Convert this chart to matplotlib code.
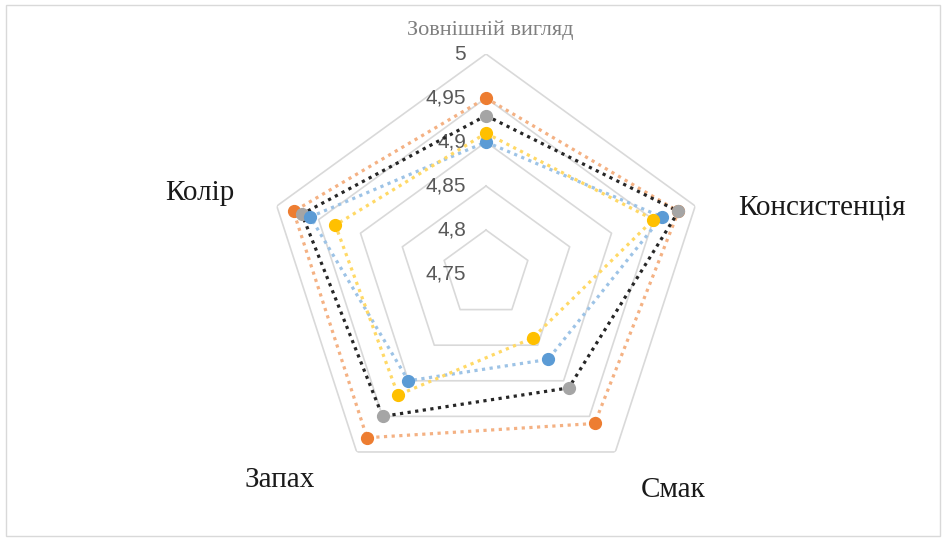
import matplotlib
matplotlib.use('Agg')
import matplotlib.pyplot as plt
import matplotlib.transforms as mtransforms
from matplotlib.patches import Rectangle
import numpy as np

categories = ['Зовнішній вигляд', 'Консистенція', 'Смак', 'Запах', 'Колір']
s_orange = [4.95, 4.98, 4.96, 4.98, 4.98]
s_gray = [4.93, 4.98, 4.91, 4.95, 4.97]
s_blue = [4.90, 4.96, 4.87, 4.90, 4.96]
s_yellow = [4.91, 4.95, 4.84, 4.92, 4.93]
ring_ticks = [4.75, 4.8, 4.85, 4.9, 4.95, 5.0]
ring_labels = ['4,75', '4,8', '4,85', '4,9', '4,95', '5']

# line colour, marker colour
styles = [('#F4B183', '#ED7D31'), ('#262626', '#A5A5A5'),
          ('#9DC3E6', '#5B9BD5'), ('#FFD966', '#FFC000')]

fig = plt.figure(figsize=(9.47, 5.4), dpi=100)
fig.patches.append(Rectangle((0.006, 0.008), 0.987, 0.982, transform=fig.transFigure,
                             fill=False, edgecolor='#D9D9D9', linewidth=1))
ax = fig.add_axes([0.2809, 0.0852, 0.4646, 0.8148], projection='polar')
ax.set_theta_zero_location('N')
ax.set_theta_direction(-1)
ax.set_ylim(ring_ticks[0], ring_ticks[-1])
ax.set_xticks([])
ax.set_yticks([])
ax.spines['polar'].set_visible(False)
ax.patch.set_visible(False)

angles = np.linspace(0, 2 * np.pi, len(categories), endpoint=False)
closed = np.append(angles, angles[0])

for r in ring_ticks[1:]:
    ax.plot(closed, [r] * len(closed), color='#D9D9D9', linewidth=1.2, zorder=1)

off = mtransforms.offset_copy(ax.transData, fig=fig, x=-20, y=0, units='dots')
for r, lab in zip(ring_ticks, ring_labels):
    ax.text(0, r, lab, transform=off, ha='right', va='center', fontsize=15,
            color='#595959', family='Liberation Sans')

for vals, (lc, mc) in zip([s_orange, s_gray, s_blue, s_yellow], styles):
    v = vals + vals[:1]
    ax.plot(closed, v, linestyle=(0, (1, 1.4)), color=lc, linewidth=2.3, zorder=3)
    ax.plot(angles, vals, linestyle='none', marker='o', markersize=8.5,
            color=mc, zorder=4)

label_offsets = [(4, 24, 'center'), (43, -1, 'left'), (25, -38, 'left'),
                 (-42, -28, 'right'), (-42, 13, 'right')]
for i, (name, (dx, dy, ha)) in enumerate(zip(categories, label_offsets)):
    if i == 0:
        kw = dict(fontsize=16, color='#7F7F7F')
    else:
        kw = dict(fontsize=21, color='#1A1A1A')
    ax.annotate(name, xy=(angles[i], ring_ticks[-1]), xytext=(dx, dy),
                textcoords='offset pixels', ha=ha, va='center',
                family='Liberation Serif', annotation_clip=False, **kw)

fig.savefig('out.png', dpi=100)
